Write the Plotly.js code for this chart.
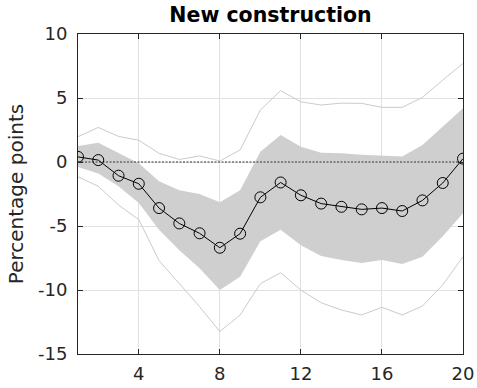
<!DOCTYPE html>
<html>
<head>
<meta charset="utf-8">
<script src="https://cdn.plot.ly/plotly-3.0.1.min.js"></script>
<style>html,body{margin:0;padding:0;background:#fff;}#chart{width:477px;height:388px;}</style>
</head>
<body>
<div id="chart"></div>
<script>
const horizon = [1,2,3,4,5,6,7,8,9,10,11,12,13,14,15,16,17,18,19,20];
const median = [0.4,0.15,-1.07,-1.7,-3.6,-4.8,-5.57,-6.7,-5.6,-2.76,-1.6,-2.6,-3.25,-3.5,-3.7,-3.6,-3.83,-3.0,-1.64,0.26];
const bandUpper = [1.25,1.5,0.7,-0.1,-1.5,-2.2,-2.5,-3.15,-2.2,0.8,2.1,1.2,0.73,0.68,0.57,0.47,0.42,1.33,2.76,4.19];
const bandLower = [-0.4,-0.9,-1.9,-3.2,-5.3,-6.9,-8.3,-10.0,-8.96,-6.2,-5.3,-6.5,-7.34,-7.66,-7.9,-7.66,-7.97,-7.4,-5.8,-4.0];
const outerUpper = [1.98,2.7,2.0,1.7,0.68,0.2,0.47,0.08,0.94,4.06,5.57,4.7,4.45,4.6,4.58,4.27,4.27,5.05,6.4,7.7];
const outerLower = [-1.15,-1.9,-3.36,-4.5,-7.7,-9.5,-11.3,-13.25,-11.95,-9.5,-8.65,-10.0,-11.0,-11.56,-11.95,-11.35,-11.95,-11.25,-9.6,-7.4];
const zeroLine = horizon.map(() => 0);
const xTicks = [4,8,12,16,20];
const yTicks = [-15,-10,-5,0,5,10];

const traces = [
  {x: horizon, y: bandLower, mode: 'lines', line: {width: 0, color: '#cccccc'}, hoverinfo: 'skip', showlegend: false},
  {x: horizon, y: bandUpper, mode: 'lines', line: {width: 0, color: '#cccccc'}, fill: 'tonexty', fillcolor: 'rgba(204,204,204,0.95)', hoverinfo: 'skip', showlegend: false},
  {x: horizon, y: outerUpper, mode: 'lines', line: {width: 1, color: '#cbcbcb'}, showlegend: false},
  {x: horizon, y: outerLower, mode: 'lines', line: {width: 1, color: '#cbcbcb'}, showlegend: false},
  {x: horizon, y: zeroLine, mode: 'lines', line: {width: 1, color: '#333333', dash: '2px,1.5px'}, showlegend: false},
  {x: horizon, y: median, mode: 'lines+markers', line: {width: 1, color: '#000000'},
   marker: {symbol: 'circle-open', size: 11, color: '#000000', line: {width: 1, color: '#000000'}}, showlegend: false}
];

const font = {family: 'DejaVu Sans, sans-serif', color: '#262626'};
const layout = {
  width: 477, height: 388,
  margin: {l: 78, r: 14, t: 34, b: 34},
  paper_bgcolor: '#ffffff', plot_bgcolor: '#ffffff',
  font: font,
  title: {text: '<b>New construction</b>', font: {family: 'DejaVu Sans, sans-serif', size: 20.5, color: '#000000'}, x: 0.5, xref: 'paper', xanchor: 'center', y: 1, yref: 'container', yanchor: 'top', pad: {t: 8}},
  xaxis: {
    range: [1, 20], tickvals: xTicks, ticktext: xTicks.map(String),
    showgrid: true, gridcolor: '#e0e0e0', gridwidth: 1, zeroline: false,
    showline: true, linecolor: '#262626', linewidth: 1, mirror: 'ticks',
    ticks: 'inside', ticklen: 5, tickcolor: '#262626',
    tickfont: {family: 'DejaVu Sans, sans-serif', size: 18, color: '#262626'},
    ticklabelstandoff: 3
  },
  yaxis: {
    range: [-15, 10], tickvals: yTicks, ticktext: yTicks.map(String),
    showgrid: true, gridcolor: '#e0e0e0', gridwidth: 1, zeroline: false,
    showline: true, linecolor: '#262626', linewidth: 1, mirror: 'ticks',
    ticks: 'inside', ticklen: 5, tickcolor: '#262626',
    tickfont: {family: 'DejaVu Sans, sans-serif', size: 18, color: '#262626'},
    ticklabelstandoff: 6,
    title: {text: 'Percentage points', font: {family: 'DejaVu Sans, sans-serif', size: 20, color: '#262626'}, standoff: 8}
  }
};

Plotly.newPlot('chart', traces, layout, {staticPlot: true, displayModeBar: false});
</script>
</body>
</html>
